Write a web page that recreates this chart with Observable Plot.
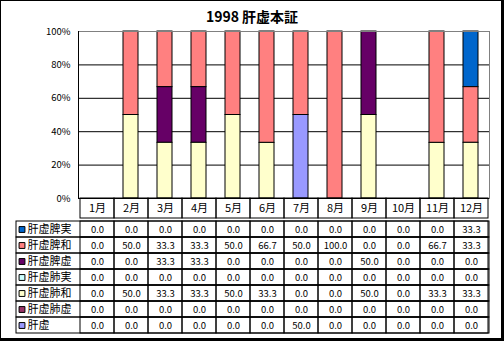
<!DOCTYPE html>
<html><head><meta charset="utf-8">
<script src="https://cdn.jsdelivr.net/npm/d3@7"></script>
<script src="https://cdn.jsdelivr.net/npm/@observablehq/plot@0.6"></script>
<style>
body{margin:0;background:#fff;}
#root{position:relative;width:504px;height:341px;background:#fff;overflow:hidden;font-family:"Noto Sans CJK JP",sans-serif;}
#frame{position:absolute;left:0;top:0;width:504px;height:341px;box-sizing:border-box;border-top:1px solid #000;border-left:1px solid #000;border-right:3px solid #000;border-bottom:3px solid #000;pointer-events:none;}
.layer{position:absolute;left:0;}
#title{position:absolute;left:0;width:504px;top:6px;text-align:center;font-weight:bold;font-size:14px;line-height:20px;color:#000;}
</style></head><body>
<div id="root">
<div id="bars" class="layer" style="top:0"></div>
<div id="head" class="layer" style="top:198px"></div>
<div id="table" class="layer" style="top:218px"></div>
<div id="title">1998 肝虚本証</div>
<div id="frame"></div>
</div>
<script>
const months = ["1月","2月","3月","4月","5月","6月","7月","8月","9月","10月","11月","12月"];
const seriesNames = ["肝虚脾実","肝虚脾和","肝虚脾虚","肝虚肺実","肝虚肺和","肝虚肺虚","肝虚"];
const seriesColors = ["#0066CC","#FF8080","#660066","#CCFFFF","#FFFFCC","#993366","#9999FF"];
const kankyoHiJitsu = [0,0,0,0,0,0,0,0,0,0,0,33.3];
const kankyoHiWa    = [0,50,33.3,33.3,50,66.7,50,100,0,0,66.7,33.3];
const kankyoHiKyo   = [0,0,33.3,33.3,0,0,0,0,50,0,0,0];
const kankyoHaiJitsu= [0,0,0,0,0,0,0,0,0,0,0,0];
const kankyoHaiWa   = [0,50,33.3,33.3,50,33.3,0,0,50,0,33.3,33.3];
const kankyoHaiKyo  = [0,0,0,0,0,0,0,0,0,0,0,0];
const kankyo        = [0,0,0,0,0,0,50,0,0,0,0,0];
const yTicks = [0,20,40,60,80,100];
const yTickLabels = ["0%","20%","40%","60%","80%","100%"];

const seriesValues = [kankyoHiJitsu,kankyoHiWa,kankyoHiKyo,kankyoHaiJitsu,kankyoHaiWa,kankyoHaiKyo,kankyo];
const stackOrder = seriesNames.slice().reverse();

const long = [];
seriesNames.forEach((s,i)=>months.forEach((m,j)=>long.push({series:s, month:m, value:seriesValues[i][j]})));
const totals = new Map(months.map((m,j)=>[m, d3.sum(seriesValues, v=>v[j])]));
const barData = long.filter(d=>d.value>0).map(d=>({...d, pct: d.value/totals.get(d.month)*100}));

const color = {domain: seriesNames, range: seriesColors, legend:false};
const W = 504, ML = 78, MR = 15;
const font = '"Noto Sans CJK JP", sans-serif';

const bars = Plot.plot({
  width: W, height: 199,
  marginLeft: ML, marginRight: MR, marginTop: 31, marginBottom: 1,
  style: {background:"transparent", overflow:"visible", fontFamily: font, fontSize:"9.5px", color:"#000"},
  x: {domain: months, paddingInner: 0.57, paddingOuter: 0.285, axis: null},
  y: {domain: [0,100], axis: null},
  color,
  marks: [
    Plot.ruleY(yTicks.slice(1,-1), {stroke:"#000"}),
    Plot.barY(barData, Plot.stackY({x:"month", y:"pct", z:"series", fill:"series", order: stackOrder, stroke:"#000", strokeWidth:1})),
    Plot.frame({stroke:"#808080"}),
    Plot.frame({anchor:"left", stroke:"#000"}),
    Plot.ruleY([0], {stroke:"#000"}),
    Plot.axisY({ticks: yTicks, tickFormat: d => yTickLabels[yTicks.indexOf(d)], tickSize: 0, tickPadding: 8, label: null})
  ]
});
document.getElementById("bars").append(bars);

const head = Plot.plot({
  width: W, height: 21,
  marginLeft: ML, marginRight: MR, marginTop: 0, marginBottom: 1,
  style: {background:"transparent", overflow:"visible", fontFamily: font, color:"#000"},
  x: {domain: months, padding: 0, axis: null},
  marks: [
    Plot.cell(months, {x: d=>d, fill:"none", stroke:"#000"}),
    Plot.text(months, {x: d=>d, text: d=>d, fontSize: 11, fill:"#000"})
  ]
});
document.getElementById("head").append(head);

const table = Plot.plot({
  width: W, height: 118,
  marginLeft: ML, marginRight: MR, marginTop: 0, marginBottom: 1,
  style: {background:"transparent", overflow:"visible", fontFamily: font, color:"#000"},
  x: {domain: months, padding: 0, axis: null},
  y: {domain: seriesNames, padding: 0, axis: null},
  color,
  marks: [
    Plot.cell(seriesNames, {y: d=>d, fill:"none", stroke:"#000", insetLeft: -62}),
    Plot.cell(long, {x:"month", y:"series", fill:"none", stroke:"#000"}),
    Plot.text(long, {x:"month", y:"series", text: d=>d.value.toFixed(1), fontSize: 9.5, fill:"#000"}),
    Plot.dot(seriesNames, {y: d=>d, frameAnchor:"left", dx: -56.5, symbol:"square", r: 3.3, fill: d=>d, stroke:"#000", strokeWidth:1}),
    Plot.text(seriesNames, {y: d=>d, text: d=>d, frameAnchor:"left", dx: -51, textAnchor:"start", fontSize: 11, fill:"#000"})
  ]
});
document.getElementById("table").append(table);
</script>
</body></html>
